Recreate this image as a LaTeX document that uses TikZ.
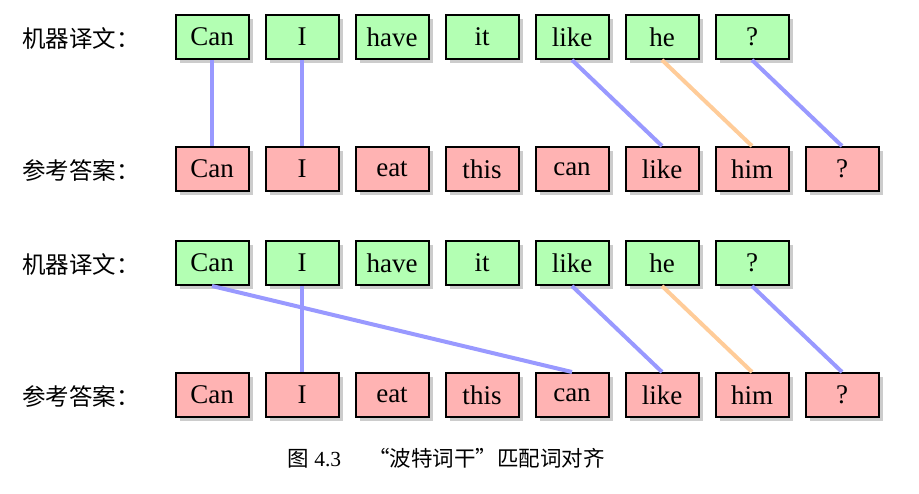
\documentclass[tikz,border=0pt]{standalone}
\usepackage{fontspec}
\setmainfont{Liberation Serif}
\newfontfamily\cjk{Noto Sans CJK SC}
\usetikzlibrary{positioning, shadows}
\definecolor{mt_green}{RGB}{179,255,179}
\definecolor{ref_red}{RGB}{255,179,179}
\definecolor{link_blue}{RGB}{153,153,255}
\definecolor{link_orange}{RGB}{255,204,153}
\tikzset{
    mt_word/.style={rectangle, minimum width=73pt, minimum height=44pt, inner sep=0pt, text centered, draw=black, line width=2pt, fill=mt_green,
        drop shadow={shadow xshift=4pt, shadow yshift=-4pt, fill=black!20, opacity=1},
        font=\fontsize{27}{30}\selectfont},
    ref_word/.style={mt_word, fill=ref_red},
    row_label/.style={anchor=west, inner sep=0pt, font=\fontsize{23.5}{26}\selectfont\cjk},
    link/.style={line width=4pt, draw=link_blue},
    stem_link/.style={line width=4pt, draw=link_orange},
}
\begin{document}
\begin{tikzpicture}[x=1pt, y=-1pt, node distance=15pt]
      \useasboundingbox (0,0) rectangle (919,493);
      %%%%%%%%%%%%%%%%%%%%%%
      % FIRST ALIGNMENT    %
      %%%%%%%%%%%%%%%%%%%%%%
      \node (label_mt_a) [row_label] at (22,39) {机器译文：};
      \node (mt_a_0) [mt_word] at (212,37) {Can};
      \node (mt_a_1) [mt_word, right = of mt_a_0] {I};
      \node (mt_a_2) [mt_word, right = of mt_a_1] {have};
      \node (mt_a_3) [mt_word, right = of mt_a_2] {it};
      \node (mt_a_4) [mt_word, right = of mt_a_3] {like};
      \node (mt_a_5) [mt_word, right = of mt_a_4] {he};
      \node (mt_a_6) [mt_word, right = of mt_a_5] {?};

      \node (label_ref_a) [row_label] at (22,171) {参考答案：};
      \node (ref_a_0) [ref_word] at (212,169) {Can};
      \node (ref_a_1) [ref_word, right = of ref_a_0] {I};
      \node (ref_a_2) [ref_word, right = of ref_a_1] {eat};
      \node (ref_a_3) [ref_word, right = of ref_a_2] {this};
      \node (ref_a_4) [ref_word, right = of ref_a_3] {can};
      \node (ref_a_5) [ref_word, right = of ref_a_4] {like};
      \node (ref_a_6) [ref_word, right = of ref_a_5] {him};
      \node (ref_a_7) [ref_word, right = of ref_a_6] {?};

      \draw [link] (mt_a_0.south) -- (ref_a_0.north);
      \draw [link] (mt_a_1.south) -- (ref_a_1.north);
      \draw [link] (mt_a_4.south) -- (ref_a_5.north);
      \draw [stem_link] (mt_a_5.south) -- (ref_a_6.north);
      \draw [link] (mt_a_6.south) -- (ref_a_7.north);

      %%%%%%%%%%%%%%%%%%%%%%
      % SECOND ALIGNMENT   %
      %%%%%%%%%%%%%%%%%%%%%%
      \node (label_mt_b) [row_label] at (22,265) {机器译文：};
      \node (mt_b_0) [mt_word] at (212,263) {Can};
      \node (mt_b_1) [mt_word, right = of mt_b_0] {I};
      \node (mt_b_2) [mt_word, right = of mt_b_1] {have};
      \node (mt_b_3) [mt_word, right = of mt_b_2] {it};
      \node (mt_b_4) [mt_word, right = of mt_b_3] {like};
      \node (mt_b_5) [mt_word, right = of mt_b_4] {he};
      \node (mt_b_6) [mt_word, right = of mt_b_5] {?};

      \node (label_ref_b) [row_label] at (22,397) {参考答案：};
      \node (ref_b_0) [ref_word] at (212,395) {Can};
      \node (ref_b_1) [ref_word, right = of ref_b_0] {I};
      \node (ref_b_2) [ref_word, right = of ref_b_1] {eat};
      \node (ref_b_3) [ref_word, right = of ref_b_2] {this};
      \node (ref_b_4) [ref_word, right = of ref_b_3] {can};
      \node (ref_b_5) [ref_word, right = of ref_b_4] {like};
      \node (ref_b_6) [ref_word, right = of ref_b_5] {him};
      \node (ref_b_7) [ref_word, right = of ref_b_6] {?};

      \draw [link] (mt_b_0.south) -- (ref_b_4.north);
      \draw [link] (mt_b_1.south) -- (ref_b_1.north);
      \draw [link] (mt_b_4.south) -- (ref_b_5.north);
      \draw [stem_link] (mt_b_5.south) -- (ref_b_6.north);
      \draw [link] (mt_b_6.south) -- (ref_b_7.north);

      % caption
      \node (caption) at (446,458) {\fontsize{21.5}{24}\selectfont{\cjk 图} 4.3\quad\ {\cjk “波特词干”匹配词对齐}};
   \end{tikzpicture}
\end{document}
